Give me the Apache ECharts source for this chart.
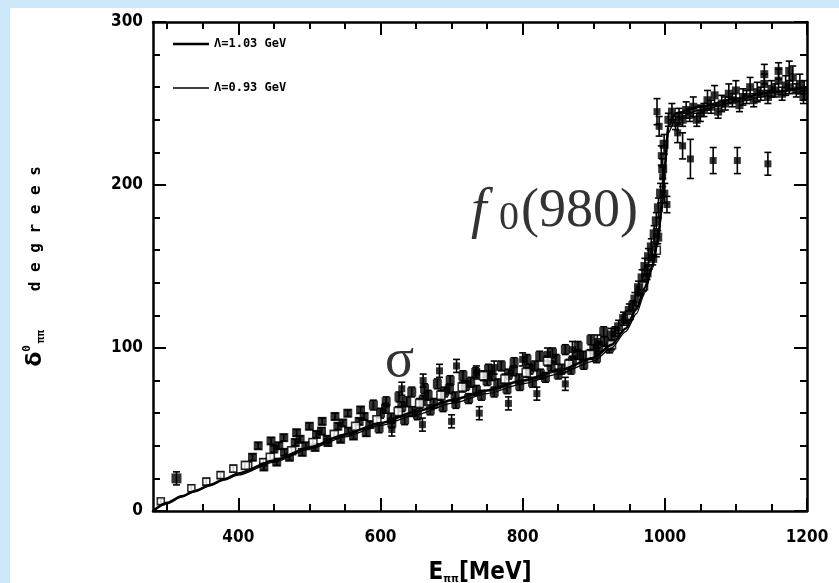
<!DOCTYPE html>
<html>
<head>
<meta charset="utf-8">
<script src="https://cdn.jsdelivr.net/npm/echarts@6/dist/echarts.min.js"></script>
<style>
  html, body { margin: 0; padding: 0; background: #cde9f9; }
  #panel { position: absolute; left: 10px; top: 8px; width: 829px; height: 575px; background: #fff; }
  #chart { position: absolute; left: 0; top: 0; width: 839px; height: 583px; }
</style>
</head>
<body>
<div id="panel"></div>
<div id="chart"></div>
<script>
// Isoscalar S-wave pi-pi phase shift: two cutoff curves and experimental points.

// Theory curves (E in MeV, phase in degrees)
const curveEnergy = [280, 300, 320, 340, 360, 380, 400, 450, 500, 550, 600, 650, 700, 750, 800, 850, 900, 925, 945, 960, 972, 982, 990, 996, 1000, 1005, 1015, 1050, 1100, 1150, 1200];
const curveCut103 = [0, 5, 9, 12.5, 16, 19.5, 23, 31, 39, 47, 54, 61, 68, 74, 80, 86, 94, 102, 112, 124, 137, 150, 166, 188, 212, 236, 244, 248, 253, 257, 260];
const curveCut093 = [0, 4.5, 8.5, 12, 15.5, 19, 22, 30, 38, 45.5, 52.5, 59, 66, 72, 78, 84, 92, 100, 110, 121, 134, 148, 163, 184, 208, 232, 241, 246, 251, 255, 258];

// Experimental points: [E (MeV), phase (deg), error (deg)]
const thresholdPts = [[291, 6, 1.5], [334, 14, 2], [355, 18, 2], [375, 22, 2], [393, 26, 2], [414, 28, 2], [435, 30, 2]];
const ke4Pts = [[313, 20, 4]];
const filledPts = [
  [420, 33, 2], [450, 38, 2], [465, 36, 2], [480, 42, 2], [495, 40, 2], [510, 47, 2], [525, 44, 2], [540, 52, 2],
  [555, 49, 2], [570, 55, 2], [585, 53, 2], [600, 60, 3], [615, 57, 3], [630, 64, 3], [645, 61, 3], [660, 68, 3],
  [675, 66, 3], [690, 73, 3], [705, 70, 3], [720, 77, 3], [735, 74, 3], [750, 80, 3], [765, 78, 3], [780, 84, 3],
  [795, 81, 3], [810, 87, 3], [825, 84, 3], [840, 89, 3], [855, 87, 3], [870, 92, 3], [885, 95, 3], [900, 99, 3],
  [915, 104, 3], [930, 110, 3], [945, 118, 3], [955, 126, 3], [965, 135, 3], [975, 146, 4], [983, 155, 4], [990, 168, 4]
];
const hollowPts = [
  [410, 28, 2], [445, 33, 2], [475, 37, 2], [505, 42, 2], [535, 47, 2], [565, 52, 2], [595, 56, 2], [625, 61, 3],
  [655, 66, 3], [685, 71, 3], [715, 76, 3], [745, 83, 3], [775, 81, 3], [805, 85, 3], [835, 92, 3], [865, 90, 3],
  [895, 96, 3], [925, 102, 3], [950, 120, 3], [970, 138, 3], [988, 160, 4]
];
const bandHighPts = [
  [428, 40, 2], [446, 43, 2], [464, 45, 2], [482, 48, 2], [500, 52, 2], [518, 55, 2], [536, 58, 2], [554, 60, 2],
  [572, 62, 2], [590, 65, 3], [608, 67, 3], [626, 70, 3], [644, 73, 3], [662, 75, 3], [680, 78, 3], [698, 80, 3],
  [716, 83, 3], [734, 85, 3], [752, 87, 3], [770, 89, 3], [788, 91, 3], [806, 93, 3], [824, 95, 3], [842, 97, 3],
  [860, 99, 3], [878, 101, 3], [896, 105, 3], [914, 110, 3]
];
const bandMidPts = [
  [457, 40, 2], [487, 44, 2], [517, 49, 2], [547, 54, 2], [577, 58, 2], [607, 63, 3], [637, 67, 3], [667, 71, 3],
  [697, 75, 3], [727, 79, 3], [757, 83, 3], [787, 86, 3], [817, 89, 3], [847, 93, 3], [877, 96, 3], [907, 101, 3]
];
const bandLowPts = [
  [436, 27, 2], [454, 30, 2], [472, 33, 2], [490, 36, 2], [508, 39, 2], [526, 42, 2], [544, 44, 2], [562, 46, 2],
  [580, 48, 2], [598, 51, 3], [616, 54, 3], [634, 56, 3], [652, 59, 3], [670, 62, 3], [688, 64, 3], [706, 66, 3],
  [724, 69, 3], [742, 71, 3], [760, 73, 3], [778, 75, 3], [796, 77, 3], [814, 79, 3], [832, 82, 3], [850, 84, 3],
  [868, 87, 3], [886, 90, 3], [904, 94, 3], [922, 100, 3]
];
const upperPts = [[630, 75, 4], [660, 80, 4], [683, 86, 4], [707, 89, 4], [735, 85, 4], [760, 88, 4], [800, 93, 4], [835, 96, 4], [870, 99, 5], [905, 104, 4]];
const lowerPts = [[616, 50, 4], [659, 53, 4], [700, 55, 4], [739, 60, 4], [780, 66, 4], [820, 72, 4], [860, 78, 4]];
const risePts = [
  [925, 108, 4], [935, 113, 4], [942, 118, 4], [950, 123, 4], [958, 130, 4], [963, 137, 4], [968, 143, 5], [972, 150, 5],
  [977, 156, 5], [981, 162, 5], [985, 170, 5], [988, 178, 5], [991, 186, 6], [994, 195, 6], [997, 210, 6], [999, 225, 6]
];
const resonancePts = [[989, 245, 8], [992, 236, 6], [995, 218, 6], [997, 205, 6], [1000, 195, 6], [1003, 188, 5]];
const upperBranchPts = [
  [1010, 245, 5], [1020, 242, 5], [1030, 246, 5], [1040, 248, 6], [1050, 244, 5], [1060, 252, 6], [1070, 255, 6],
  [1080, 250, 5], [1090, 256, 6], [1100, 258, 6], [1110, 254, 5], [1120, 260, 6], [1130, 257, 6], [1140, 262, 6],
  [1150, 259, 5], [1160, 264, 7], [1170, 261, 6], [1180, 266, 7], [1190, 262, 6], [1196, 258, 6]
];
const upperBranch2Pts = [
  [1005, 240, 4], [1015, 238, 4], [1025, 240, 4], [1035, 243, 4], [1045, 240, 4], [1055, 246, 4], [1065, 248, 4],
  [1075, 245, 4], [1085, 250, 4], [1095, 252, 4], [1105, 249, 4], [1115, 254, 4], [1125, 252, 4], [1135, 256, 4],
  [1145, 254, 4], [1155, 258, 4], [1165, 256, 4], [1175, 260, 4], [1185, 258, 4], [1195, 254, 4],
  [1140, 268, 6], [1160, 270, 5], [1175, 270, 6]
];
const lowerBranchPts = [[1018, 232, 6], [1025, 224, 8], [1036, 216, 12], [1068, 215, 8], [1102, 215, 8], [1145, 213, 7]];

// Axis tick values
const xMajorTicks = [400, 600, 800, 1000, 1200];
const xMinorTicks = [300, 350, 450, 500, 550, 650, 700, 750, 850, 900, 950, 1050, 1100, 1150];

const legendNames = ['\u039b=1.03 GeV', '\u039b=0.93 GeV'];

const tickFont = '"Liberation Sans Narrow", "DejaVu Sans Condensed", "DejaVu Sans", sans-serif';
const legendFont = { fontFamily: '"DejaVu Sans Mono", monospace', fontWeight: 'bold', fontSize: 12, color: '#000' };

function pairs(xs, ys) { return xs.map((x, i) => [x, ys[i]]); }

function errorBar(params, api) {
  const x = api.value(0), y = api.value(1), e = api.value(2);
  const top = api.coord([x, y + e]);
  const bot = api.coord([x, y - e]);
  const cap = 3.5;
  const st = { stroke: '#000', lineWidth: 1.6 };
  return {
    type: 'group',
    children: [
      { type: 'line', shape: { x1: top[0], y1: top[1], x2: bot[0], y2: bot[1] }, style: st },
      { type: 'line', shape: { x1: top[0] - cap, y1: top[1], x2: top[0] + cap, y2: top[1] }, style: st },
      { type: 'line', shape: { x1: bot[0] - cap, y1: bot[1], x2: bot[0] + cap, y2: bot[1] }, style: st }
    ]
  };
}

function errSeries(data) {
  return { type: 'custom', xAxisIndex: 0, yAxisIndex: 0, renderItem: errorBar, data: data, z: 3, silent: true };
}
function pointSeries(data, hollow, size) {
  return {
    type: 'scatter', xAxisIndex: 0, yAxisIndex: 0,
    data: data.map(p => [p[0], p[1]]),
    symbol: 'rect', symbolSize: size || 8,
    itemStyle: hollow ? { color: '#fff', borderColor: '#000', borderWidth: 1.6 } : { color: '#000' },
    z: 4, silent: true
  };
}
function plain(v) { return String(v); }

const chart = echarts.init(document.getElementById('chart'), null, { renderer: 'canvas' });

const baseX = { type: 'value', min: 280, max: 1200, splitLine: { show: false } };

chart.setOption({
  animation: false,
  grid: { left: 153, top: 22, width: 654, height: 489, containLabel: false, outerBoundsMode: 'none' },
  legend: [
    {
      data: [legendNames[0]], left: 168, top: 33, icon: 'rect',
      itemWidth: 36, itemHeight: 2.5, textStyle: legendFont, selectedMode: false
    },
    {
      data: [legendNames[1]], left: 168, top: 77, icon: 'rect',
      itemWidth: 36, itemHeight: 1.4, textStyle: legendFont, selectedMode: false
    }
  ],
  xAxis: [
    Object.assign({}, baseX, {
      position: 'bottom',
      axisLine: { show: true, lineStyle: { color: '#000', width: 2.5 } },
      axisTick: { show: true, inside: true, length: 13, customValues: xMajorTicks, lineStyle: { color: '#000', width: 2 } },
      axisLabel: { customValues: xMajorTicks, formatter: plain, margin: 18, color: '#000', fontFamily: tickFont, fontWeight: 'bold', fontSize: 17 },
      name: '{e|E}{s|\u03c0\u03c0}{e|[MeV]}',
      nameLocation: 'middle', nameGap: 49,
      nameTextStyle: {
        rich: {
          e: { fontFamily: tickFont, fontWeight: 'bold', fontSize: 24, color: '#000' },
          s: { fontFamily: tickFont, fontWeight: 'bold', fontSize: 11, color: '#000', padding: [14, 0, 0, 0] }
        }
      }
    }),
    Object.assign({}, baseX, {
      position: 'bottom',
      axisLine: { show: false },
      axisTick: { show: true, inside: true, length: 7, customValues: xMinorTicks, lineStyle: { color: '#000', width: 2 } },
      axisLabel: { show: false }
    }),
    Object.assign({}, baseX, {
      position: 'top',
      axisLine: { show: true, lineStyle: { color: '#000', width: 2.5 } },
      axisTick: { show: true, inside: true, length: 13, customValues: xMajorTicks, lineStyle: { color: '#000', width: 2 } },
      axisLabel: { show: false }
    }),
    Object.assign({}, baseX, {
      position: 'top',
      axisLine: { show: false },
      axisTick: { show: true, inside: true, length: 7, customValues: xMinorTicks, lineStyle: { color: '#000', width: 2 } },
      axisLabel: { show: false }
    })
  ],
  yAxis: [
    {
      type: 'value', min: 0, max: 300, interval: 100, position: 'left',
      splitLine: { show: false },
      axisLine: { show: true, lineStyle: { color: '#000', width: 2.5 } },
      axisTick: { show: true, inside: true, length: 13, lineStyle: { color: '#000', width: 2 } },
      minorTick: { show: true, splitNumber: 5, length: 7, lineStyle: { color: '#000', width: 2 } },
      axisLabel: { formatter: plain, margin: 10, color: '#000', fontFamily: tickFont, fontWeight: 'bold', fontSize: 17 },
      name: '{d|\u03b4}{u|0}{p|\u03c0\u03c0}{t|    d e g r e e s}',
      nameLocation: 'middle', nameGap: 104,
      nameTextStyle: {
        rich: {
          d: { fontFamily: 'DejaVu Sans', fontWeight: 'bold', fontSize: 22, color: '#000' },
          u: { fontFamily: 'DejaVu Sans Mono', fontWeight: 'bold', fontSize: 11, color: '#000', padding: [0, 0, 16, 0] },
          p: { fontFamily: 'DejaVu Sans Mono', fontWeight: 'bold', fontSize: 11, color: '#000', padding: [12, 0, 0, 2] },
          t: { fontFamily: '"DejaVu Sans Mono", monospace', fontWeight: 'bold', fontSize: 16, color: '#000' }
        }
      }
    },
    {
      type: 'value', min: 0, max: 300, interval: 100, position: 'right',
      splitLine: { show: false },
      axisLine: { show: true, lineStyle: { color: '#000', width: 2.5 } },
      axisTick: { show: true, inside: true, length: 13, lineStyle: { color: '#000', width: 2 } },
      minorTick: { show: true, splitNumber: 5, length: 7, lineStyle: { color: '#000', width: 2 } },
      axisLabel: { show: false }
    }
  ],
  graphic: [
    { type: 'text', x: 471, y: 212, z: 10, style: { text: 'f', font: 'italic 56px "Liberation Serif", serif', fill: '#333', textVerticalAlign: 'middle' } },
    { type: 'text', x: 499, y: 218, z: 10, style: { text: '0', font: '40px "Liberation Serif", serif', fill: '#333', textVerticalAlign: 'middle' } },
    { type: 'text', x: 521, y: 212, z: 10, style: { text: '(980)', font: '54px "Liberation Serif", serif', fill: '#333', textVerticalAlign: 'middle' } },
    { type: 'text', x: 385, y: 362, z: 10, style: { text: '\u03c3', font: '54px "Liberation Serif", serif', fill: '#333', textVerticalAlign: 'middle' } }
  ],
  series: [
    {
      name: legendNames[0], type: 'line', xAxisIndex: 0, yAxisIndex: 0,
      data: pairs(curveEnergy, curveCut103), symbol: 'none', showSymbol: false,
      smooth: 0.25, smoothMonotone: 'x',
      lineStyle: { color: '#000', width: 2.5 }, itemStyle: { color: '#000' }, z: 5, silent: true
    },
    {
      name: legendNames[1], type: 'line', xAxisIndex: 0, yAxisIndex: 0,
      data: pairs(curveEnergy, curveCut093), symbol: 'none', showSymbol: false,
      smooth: 0.25, smoothMonotone: 'x',
      lineStyle: { color: '#000', width: 1.3 }, itemStyle: { color: '#000' }, z: 5, silent: true
    },
    errSeries(thresholdPts), pointSeries(thresholdPts, true, 7),
    errSeries(ke4Pts), pointSeries(ke4Pts, false, 10),
    errSeries(bandHighPts), pointSeries(bandHighPts, false, 9),
    errSeries(bandMidPts), pointSeries(bandMidPts, false, 9),
    errSeries(bandLowPts), pointSeries(bandLowPts, false, 9),
    errSeries(filledPts), pointSeries(filledPts, false, 9),
    errSeries(hollowPts), pointSeries(hollowPts, true, 8),
    errSeries(upperPts), pointSeries(upperPts, false, 7),
    errSeries(lowerPts), pointSeries(lowerPts, false, 7),
    errSeries(risePts), pointSeries(risePts, false, 9),
    errSeries(resonancePts), pointSeries(resonancePts, false, 7),
    errSeries(upperBranchPts), pointSeries(upperBranchPts, false, 8),
    errSeries(upperBranch2Pts), pointSeries(upperBranch2Pts, false, 8),
    errSeries(lowerBranchPts), pointSeries(lowerBranchPts, false, 7)
  ]
});
</script>
</body>
</html>
